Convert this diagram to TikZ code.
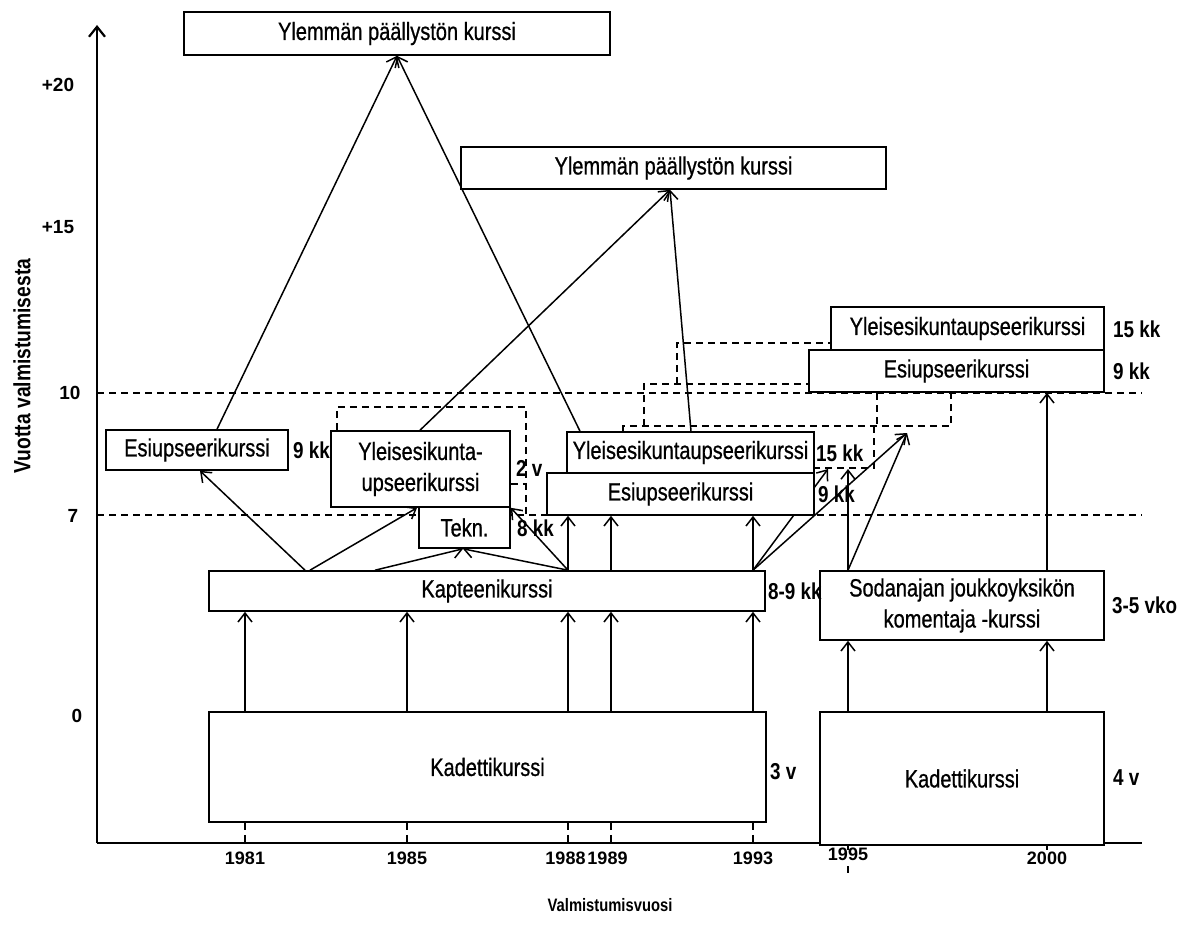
\documentclass[tikz,border=0pt]{standalone}
\usepackage{fontspec}
\setmainfont{Liberation Sans}
\newfontfamily\nfont[FakeStretch=0.8, FakeBold=0.7]{Liberation Sans}
\newfontfamily\dfont[FakeStretch=0.82]{Liberation Sans}
\usetikzlibrary{arrows.meta,backgrounds}
\begin{document}
\begin{tikzpicture}[x=1pt,y=-1pt,
  box/.style={draw, line width=1.6pt, fill=white, inner sep=0pt, align=center, font=\nfont\fontsize{25}{31}\selectfont},
  dur/.style={font=\dfont\bfseries\fontsize{23}{28}\selectfont, inner sep=0pt, anchor=west},
  axl/.style={font=\bfseries\fontsize{18}{22}\selectfont, inner sep=0pt},
  arr/.style={line width=1.5pt, -{Straight Barb[length=9pt,width=14pt,line width=1.5pt]}},
  dsh/.style={line width=1.4pt, dash pattern=on 7pt off 5pt},
  axis/.style={line width=2.4pt},
]
\useasboundingbox (0,0) rectangle (1186,942);
\coordinate (O) at (97,843);
\coordinate (Ytop) at (97,25);
\coordinate (Xend) at (1142,843);
\coordinate (L10a) at (97,393);
\coordinate (L10b) at (1142,393);
\coordinate (L7a) at (97,515);
\coordinate (L7b) at (1142,515);
\coordinate (t1) at (828,469);
\coordinate (t2) at (907,433);
\coordinate (t3) at (848,469);

% axes
\draw[axis, -{Straight Barb[length=10pt,width=16pt,line width=2.2pt]}] (O) -- (Ytop);
\draw[axis] (O) -- (Xend);

% axis labels
\node[axl, font=\bfseries\fontsize{19}{22}\selectfont] (y20) at (58,85) {+20};
\node[axl, font=\bfseries\fontsize{19}{22}\selectfont] (y15) at (58,227) {+15};
\node[axl, font=\bfseries\fontsize{19}{22}\selectfont] (y10) at (70,393) {10};
\node[axl, font=\bfseries\fontsize{19}{22}\selectfont] (y7) at (73,516) {7};
\node[axl, font=\bfseries\fontsize{19}{22}\selectfont] (y0) at (77,716) {0};
\node[font=\dfont\bfseries\fontsize{23.5}{26}\selectfont, rotate=90] (ylab) at (22,366) {Vuotta valmistumisesta};
\node[font=\dfont\bfseries\fontsize{18}{22}\selectfont] (xlab) at (610,905) {Valmistumisvuosi};

\node[axl] (x1981) at (245,858) {1981};
\node[axl] (x1985) at (407,858) {1985};
\node[axl] (x1988) at (565.5,858) {1988};
\node[axl] (x1989) at (607.5,858) {1989};
\node[axl] (x1993) at (753,858) {1993};
\node[axl] (x1995) at (848,854) {1995};
\node[axl] (x2000) at (1047,858) {2000};

% nodes
\node[box, minimum width=426pt, minimum height=43pt] (top1) at (397,33.5) {Ylemmän päällystön kurssi};
\node[box, minimum width=425pt, minimum height=42pt] (top2) at (673.5,168) {Ylemmän päällystön kurssi};
\node[box, minimum width=273pt, minimum height=43pt] (yleR) at (967.5,328.5) {Yleisesikuntaupseerikurssi};
\node[box, minimum width=295pt, minimum height=42pt] (esiR) at (956.5,371) {Esiupseerikurssi};
\node[box, minimum width=182pt, minimum height=40pt] (esiL) at (197,450) {Esiupseerikurssi};
\node[box, minimum width=179pt, minimum height=76pt] (yleL) at (420.5,469) {Yleisesikunta-\\upseerikurssi};
\node[box, minimum width=91pt, minimum height=41pt] (tekn) at (464.5,527.5) {Tekn.};
\node[box, minimum width=247pt, minimum height=41pt] (yleM) at (690.5,452.5) {Yleisesikuntaupseerikurssi};
\node[box, minimum width=267pt, minimum height=42pt] (esiM) at (680.5,494) {Esiupseerikurssi};
\node[box, minimum width=556pt, minimum height=40pt] (kap) at (487,591) {Kapteenikurssi};
\node[box, minimum width=557pt, minimum height=110pt] (kadL) at (487.5,767) {Kadettikurssi};
\node[box, minimum width=284pt, minimum height=69pt] (sod) at (962,605.5) {Sodanajan joukkoyksikön\\komentaja -kurssi};
\node[box, minimum width=284pt, minimum height=133pt] (kadR) at (962,778.5) {Kadettikurssi};

% duration labels
\node[dur] (d1) at (293,450) {9 kk};
\node[dur] (d2) at (516,468) {2 v};
\node[dur] (d3) at (517,528) {8 kk};
\node[dur] (d4) at (816,453) {15 kk};
\node[dur] (d5) at (818,494) {9 kk};
\node[dur] (d6) at (1113,329) {15 kk};
\node[dur] (d7) at (1113,371) {9 kk};
\node[dur] (d8) at (768,591) {8-9 kk};
\node[dur] (d9) at (770,772) {3 v};
\node[dur] (d10) at (1113,778) {4 v};
\node[dur] (d11) at (1112,605) {3-5 vko};

\begin{pgfonlayer}{background}
% level lines
\draw[dsh] (L10a) -- (L10b);
\draw[dsh] (L7a) -- (L7b);
% dashed placeholders
\draw[dsh] (yleL.north -| 337,0) -- (337,407) -- (526,407) -- (L7a -| 526,0);
\draw[dsh] (yleL.east |- 0,484) -- (526,484);
\draw[dsh] (yleM.north -| 623,0) -- (623,426) -- (951,426) -- (L10a -| 951,0);
\draw[dsh] (L10a -| 877,0) -- (877,426) -- (874,426) -- (874,468) -- (esiM.east |- 0,468);
\draw[dsh] (644,426) -- (644,384) -- (esiR.west |- 0,384);
\draw[dsh] (677,384) -- (677,343) -- (yleR.west |- 0,343);

% connectors to top courses
\draw[arr] (esiL.north -| 217,0) -- (top1.south);
\draw[arr] (yleM.north -| 580,0) -- (top1.south);
\draw[arr] (yleL.north -| 420,0) -- (top2.south -| 670,0);
\draw[arr] (yleM.north -| 691,0) -- (top2.south -| 670,0);

% from Kapteenikurssi
\draw[arr] (kap.north -| 305,0) -- (esiL.south -| 200,0);
\draw[arr] (kap.north -| 310,0) -- (yleL.south -| 417,0);
\draw[arr] (kap.north -| 375,0) -- (tekn.south -| 463,0);
\draw[arr] (kap.north -| 568,0) -- (tekn.south -| 463,0);
\draw[arr] (kap.north -| 568,0) -- (yleL.south east);
\draw[arr] (kap.north -| 568,0) -- (esiM.south -| 568,0);
\draw[arr] (kap.north -| 611,0) -- (esiM.south -| 611,0);
\draw[arr] (kap.north -| 753,0) -- (esiM.south -| 753,0);
\draw[arr] (kap.north -| 753,0) -- (t2);
\draw[arr] (kap.north -| 753,0) -- (t1);
% from Sodanajan
\draw[arr] (sod.north -| 848,0) -- (t3);
\draw[arr] (sod.north -| 848,0) -- (t2);
\draw[arr] (sod.north -| 1047,0) -- (esiR.south -| 1047,0);

% from Kadettikurssi
\foreach \xx in {245,407,568,611,753}
  \draw[arr] (kadL.north -| \xx,0) -- (kap.south -| \xx,0);
\foreach \xx in {848,1047}
  \draw[arr] (kadR.north -| \xx,0) -- (sod.south -| \xx,0);

% dashed year markers
\foreach \xx in {245,407,568,611,753}
  \draw[dsh] (kadL.south -| \xx,0) -- (O -| \xx,0);
\end{pgfonlayer}
\draw[dsh] (kadR.south -| 848,0) -- ++(0,4);
\draw[dsh] (848,866) -- (848,878);
\draw[dsh] (kadR.south -| 1047,0) -- ++(0,4);
\end{tikzpicture}
\end{document}
